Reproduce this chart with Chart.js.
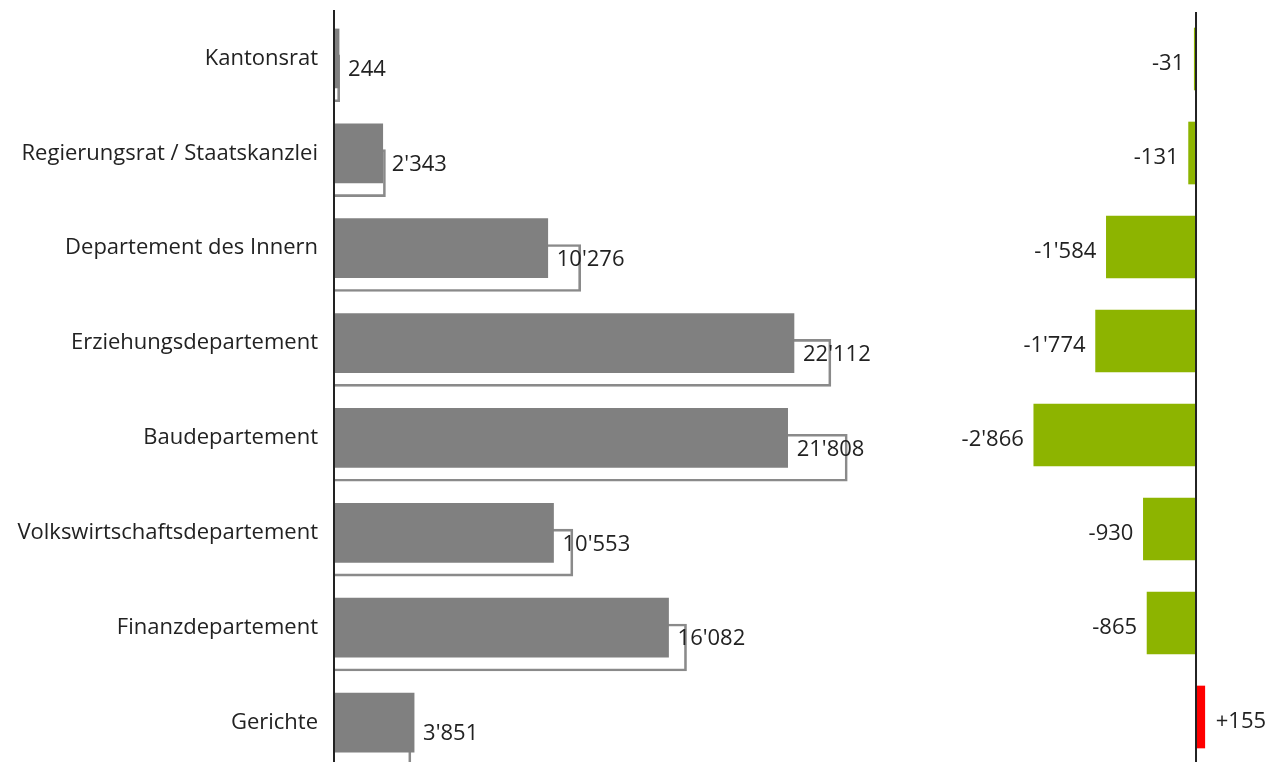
<!DOCTYPE html>
<html><head><meta charset="utf-8">
<script src="https://cdn.jsdelivr.net/npm/chart.js@4/dist/chart.umd.min.js"></script>
<style>
html,body{margin:0;padding:0;background:#fff;overflow:hidden;width:1274px;height:762px;}
#left{position:absolute;left:0;top:0;}
#right{position:absolute;left:900px;top:0;}
</style></head><body>
<canvas id="left" width="900" height="780"></canvas>
<canvas id="right" width="374" height="780"></canvas>
<script>
const categories = ['Kantonsrat','Regierungsrat / Staatskanzlei','Departement des Innern','Erziehungsdepartement','Baudepartement','Volkswirtschaftsdepartement','Finanzdepartement','Gerichte'];
const currentValues = [244, 2343, 10276, 22112, 21808, 10553, 16082, 3851];
const previousValues = [275, 2474, 11860, 23886, 24674, 11483, 16947, 3696];
const deltaValues = [-31, -131, -1584, -1774, -2866, -930, -865, 155];

const FONT = "'Open Sans', 'Noto Sans', sans-serif";
const TEXT = '#222222';
const OUTLINE_SHIFT = 0.209;
const Y_MIN = -0.5, Y_MAX = categories.length - 0.5;

function fmt(v, signed) {
  const a = Math.abs(v).toString().replace(/\B(?=(\d{3})+(?!\d))/g, "'");
  return (v < 0 ? '-' : (signed && v > 0 ? '+' : '')) + a;
}

const valueLabelsLeft = {
  id: 'valueLabelsLeft',
  afterDatasetsDraw(chart) {
    const ctx = chart.ctx;
    const meta = chart.getDatasetMeta(0);
    ctx.save();
    ctx.font = '22px ' + FONT;
    ctx.fillStyle = TEXT;
    ctx.textBaseline = 'middle';
    ctx.textAlign = 'left';
    meta.data.forEach((bar, i) => {
      ctx.fillText(fmt(currentValues[i]), Math.max(bar.x, bar.base) + 9, bar.y + 11.5);
    });
    ctx.restore();
  }
};

const zeroLine = {
  id: 'zeroLine',
  afterDatasetsDraw(chart) {
    const ctx = chart.ctx;
    const x = chart.scales.x.getPixelForValue(0);
    ctx.save();
    ctx.strokeStyle = '#222';
    ctx.lineWidth = 2;
    ctx.beginPath();
    ctx.moveTo(x, chart.chartArea.top);
    ctx.lineTo(x, chart.height);
    ctx.stroke();
    ctx.restore();
  }
};

const valueLabelsRight = {
  id: 'valueLabelsRight',
  afterDatasetsDraw(chart) {
    const ctx = chart.ctx;
    const meta = chart.getDatasetMeta(0);
    ctx.save();
    ctx.font = '22px ' + FONT;
    ctx.fillStyle = TEXT;
    ctx.textBaseline = 'middle';
    meta.data.forEach((bar, i) => {
      const v = deltaValues[i];
      if (v < 0) {
        ctx.textAlign = 'right';
        ctx.fillText(fmt(v, true), Math.min(bar.x, bar.base) - 10, bar.y + 4.5);
      } else {
        ctx.textAlign = 'left';
        ctx.fillText(fmt(v, true), Math.max(bar.x, bar.base) + 11, bar.y + 4.5);
      }
    });
    ctx.restore();
  }
};

new Chart(document.getElementById('left'), {
  type: 'bar',
  data: {
    datasets: [
      {
        data: currentValues.map((v, i) => ({ x: v, y: i })),
        backgroundColor: '#808080',
        borderWidth: 0,
        barThickness: 59,
        grouped: false
      },
      {
        data: previousValues.map((v, i) => ({ x: v, y: i + OUTLINE_SHIFT })),
        backgroundColor: 'rgba(0,0,0,0)',
        borderColor: '#8a8a8a',
        borderWidth: 2,
        barThickness: 47,
        grouped: false
      }
    ]
  },
  options: {
    indexAxis: 'y',
    responsive: false,
    animation: false,
    devicePixelRatio: 1,
    layout: { padding: { top: 11, bottom: 10, left: 0, right: 0 } },
    plugins: { legend: { display: false }, tooltip: { enabled: false } },
    scales: {
      x: { type: 'linear', display: false, min: 0, max: 27208 },
      y: {
        type: 'linear', reverse: true, min: Y_MIN, max: Y_MAX, bounds: 'data', offset: false,
        grid: { display: false, drawTicks: false, offset: false },
        border: { display: true, color: '#222', width: 2, z: 1 },
        afterBuildTicks: s => { s.ticks = categories.map((c, i) => ({ value: i })); s.min = Y_MIN; s.max = Y_MAX; },
        afterFit: s => { s.width = 334; s.paddingTop = 0; s.paddingBottom = 0; },
        ticks: {
          padding: 16, autoSkip: false, color: TEXT,
          font: { family: FONT, size: 22 },
          callback: v => categories[v]
        }
      }
    }
  },
  plugins: [valueLabelsLeft]
});

new Chart(document.getElementById('right'), {
  type: 'bar',
  data: {
    datasets: [{
      data: deltaValues.map((v, i) => ({ x: v, y: i })),
      backgroundColor: deltaValues.map(v => v < 0 ? '#8db400' : '#ff0000'),
      borderWidth: 0,
      barThickness: 62,
      grouped: false
    }]
  },
  options: {
    indexAxis: 'y',
    responsive: false,
    animation: false,
    devicePixelRatio: 1,
    layout: { padding: { top: 12, bottom: 16, left: 0, right: 0 } },
    plugins: { legend: { display: false }, tooltip: { enabled: false } },
    scales: {
      x: { type: 'linear', display: false, min: -5230, max: 1378 },
      y: {
        type: 'linear', display: false, reverse: true, min: Y_MIN, max: Y_MAX, bounds: 'data', offset: false,
        grid: { offset: false },
        afterBuildTicks: s => { s.min = Y_MIN; s.max = Y_MAX; }
      }
    }
  },
  plugins: [zeroLine, valueLabelsRight]
});
</script>
</body></html>
